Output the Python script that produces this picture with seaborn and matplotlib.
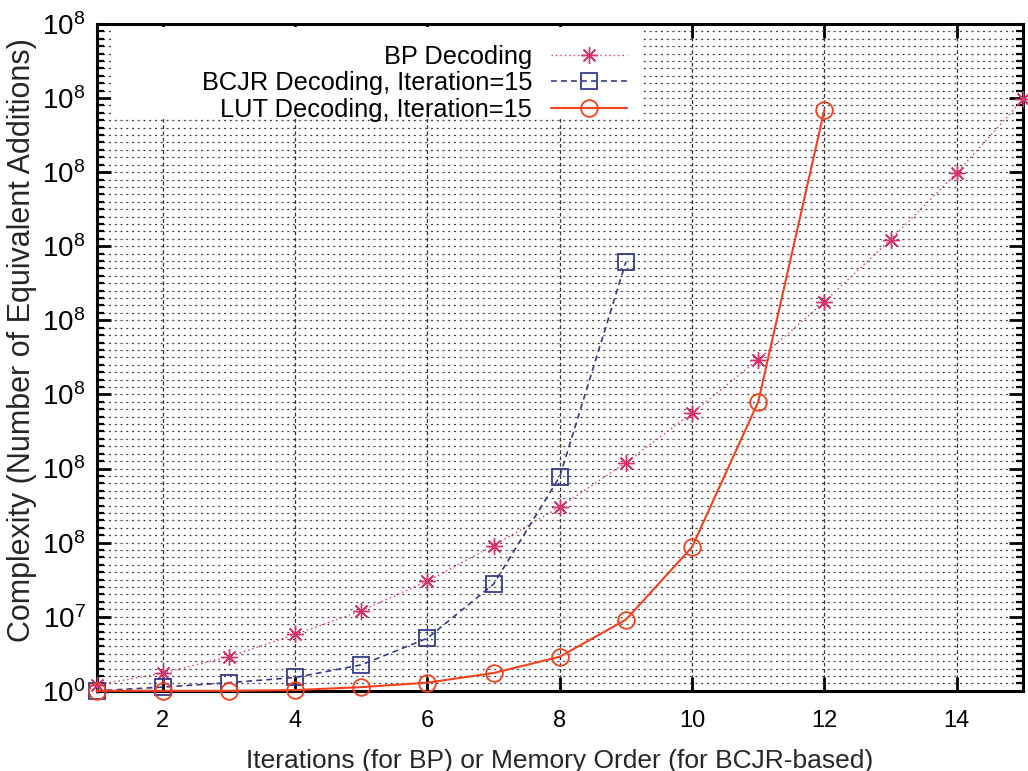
import matplotlib
matplotlib.use("Agg")
import matplotlib.pyplot as plt
from matplotlib.patches import Rectangle
from matplotlib.ticker import MultipleLocator, FixedLocator
import seaborn as sns
import pandas as pd

# Complexity curves, expressed in the axis' own units (one unit per labelled tick)
bp_x = list(range(1, 16))
bp_y = [0.08, 0.24, 0.46, 0.76, 1.08, 1.48, 1.96, 2.48, 3.08, 3.75, 4.47, 5.25, 6.09, 6.99, 7.98]

bcjr_x = list(range(1, 10))
bcjr_y = [0.0, 0.05, 0.11, 0.18, 0.35, 0.71, 1.44, 2.89, 5.79]

lut_x = list(range(1, 13))
lut_y = [0.0, 0.0, 0.0, 0.01, 0.05, 0.11, 0.24, 0.46, 0.96, 1.94, 3.90, 7.84]

series_names = ["BP Decoding", "BCJR Decoding, Iteration=15", "LUT Decoding, Iteration=15"]
y_tick_pos = list(range(10))
y_tick_labels = [r"$10^{0}$", r"$10^{7}$"] + [r"$10^{8}$"] * 8
x_tick_pos = [2, 4, 6, 8, 10, 12, 14]

sns.set_theme(style="ticks")
plt.rcParams["font.family"] = ["Liberation Sans", "DejaVu Sans"]
plt.rcParams["mathtext.fontset"] = "custom"
plt.rcParams["mathtext.rm"] = "Liberation Sans"
plt.rcParams["mathtext.it"] = "Liberation Sans:italic"
plt.rcParams["text.color"] = "black"

fig = plt.figure(figsize=(10.28, 7.71), dpi=100)
ax = fig.add_axes([0.094, 0.104, 0.901, 0.865])

frames = {
    series_names[0]: pd.DataFrame({"x": bp_x, "y": bp_y}),
    series_names[1]: pd.DataFrame({"x": bcjr_x, "y": bcjr_y}),
    series_names[2]: pd.DataFrame({"x": lut_x, "y": lut_y}),
}
styles = {
    series_names[0]: dict(color="#d8336f", marker=(8, 2, 0), ms=12, mew=1.0, ls=(0, (1, 2.2)), lw=1.0),
    series_names[1]: dict(color="#353a8c", marker="s", ms=12, mew=1.3, ls=(0, (3.5, 2.5)), lw=1.2),
    series_names[2]: dict(color="#f5401e", marker="o", ms=12, mew=1.3, ls="-", lw=1.5),
}

for name in series_names:
    st = styles[name]
    sns.lineplot(data=frames[name], x="x", y="y", ax=ax, color=st["color"],
                 marker=st["marker"], markersize=st["ms"], markerfacecolor="none",
                 markeredgecolor=st["color"], markeredgewidth=st["mew"],
                 linestyle=st["ls"], linewidth=st["lw"], label=name,
                 zorder=3, clip_on=False)

ax.set_xlim(1, 15)
ax.set_ylim(0, 9)
ax.xaxis.set_major_locator(FixedLocator(x_tick_pos))
ax.set_yticks(y_tick_pos)
ax.set_yticklabels(y_tick_labels)
ax.yaxis.set_minor_locator(MultipleLocator(0.1))

ax.set_axisbelow(True)
ax.grid(axis="y", which="both", color="#404040", linestyle=(0, (1.6, 3.0)), linewidth=0.9)
ax.grid(axis="x", which="major", color="#333333", linestyle=(0, (3, 2)), linewidth=0.9)

for sp in ax.spines.values():
    sp.set_linewidth(2.2)
    sp.set_color("black")
    sp.set_visible(True)

ax.tick_params(axis="both", which="both", direction="in", top=True, right=True,
               colors="black")
ax.tick_params(axis="x", labelsize=17)
ax.tick_params(axis="y", labelsize=20, pad=8)
ax.tick_params(axis="both", which="major", length=10, width=2)
ax.tick_params(axis="y", which="minor", length=5, width=1.6)
ax.tick_params(axis="x", which="minor", length=0)
ax.tick_params(axis="x", which="major", pad=14)

ax.set_xlabel("Iterations (for BP) or Memory Order (for BCJR-based)", fontsize=19, labelpad=12)
ax.set_ylabel("Complexity (Number of Equivalent Additions)", fontsize=22, labelpad=4)
ax.yaxis.label.set_y(0.526)

# white panel behind the key
ax.add_patch(Rectangle((0.016, 0.859), 0.573, 0.137, transform=ax.transAxes,
                       facecolor="white", edgecolor="none", zorder=1.5))

# text to the left of each sample; rows are right-aligned so the labels line up on the right
ax.legend(loc="upper right", bbox_to_anchor=(0.584, 0.984), frameon=False,
          markerfirst=False, fontsize=18.3, handlelength=3.0, handletextpad=0.75,
          labelspacing=0.1, borderaxespad=0.0)

fig.savefig("out.png", dpi=100)
